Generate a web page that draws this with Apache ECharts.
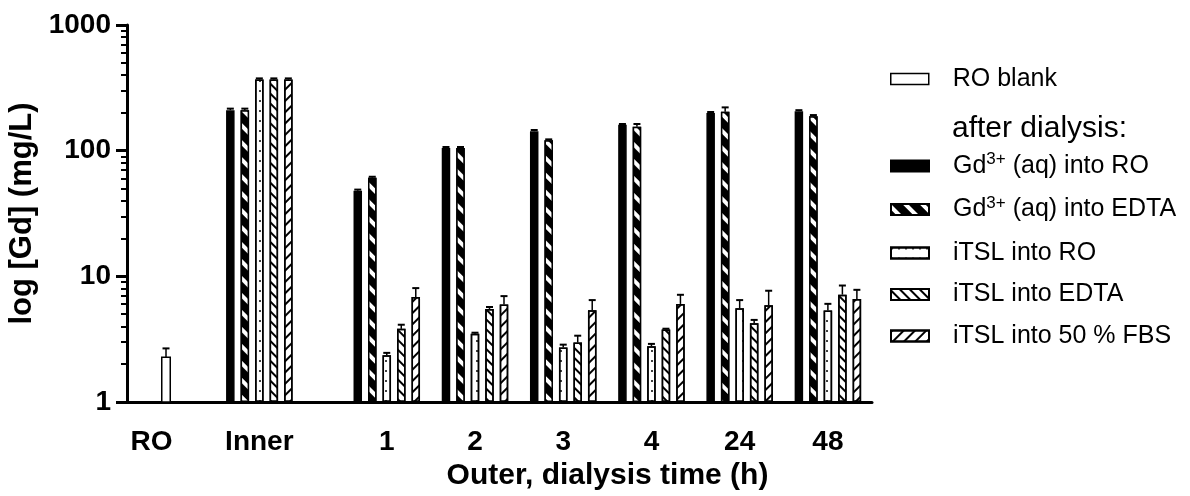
<!DOCTYPE html>
<html>
<head>
<meta charset="utf-8">
<script src="https://cdn.jsdelivr.net/npm/echarts@6/dist/echarts.min.js"></script>
<style>
  html, body { margin: 0; padding: 0; background: #fff; }
  #main { width: 1190px; height: 496px; }
</style>
</head>
<body>
<div id="main"></div>
<script>
// groups on the x axis
var groups = ['RO', 'Inner', '1', '2', '3', '4', '24', '48'];

// mean values (mg/L), one per group
var gdRO      = [null, 210, 48,   105, 143,  161,  199,  206];
var gdEDTA    = [null, 210, 61,   105, 121,  155,  204,  188];
var itslRO    = [null, 368, 2.36, 3.5, 2.71, 2.78, 5.57, 5.34];
var itslEDTA  = [null, 368, 3.82, 5.5, 2.97, 3.77, 4.23, 7.15];
var itslFBS   = [null, 368, 6.86, 5.96, 5.37, 6.03, 5.88, 6.61];
var roBlank   = [2.27];

// error (upper bar only)
var gdRO_sd     = [null, 6, 1,   2,    3,    2,    4,   4];
var gdEDTA_sd   = [null, 6, 1,   2,    2,    8,   17,   4];
var itslRO_sd   = [null, 8, 0.1, 0.06, 0.15, 0.12, 0.9, 0.7];
var itslEDTA_sd = [null, 8, 0.3, 0.2,  0.4,  0.06, 0.27, 1.3];
var itslFBS_sd  = [null, 8, 1.2, 1.0,  1.1,  1.1,  1.8, 1.2];
var roBlank_sd  = [0.4];

var seriesNames = ['Gd3+ (aq) into RO', 'Gd3+ (aq) into EDTA', 'iTSL into RO', 'iTSL into EDTA', 'iTSL into 50 % FBS'];

// layout: the x axis is split in thin slots so the groups can sit
// with the uneven gaps of the original figure
var SLOTS = 76;
var groupSlot = [2, 13, 26, 35, 44, 53, 62, 71];
var BAR_W = 8.5;
var PITCH = 14.5;
var FONT = 'Liberation Sans';

var slotLabels = [];
for (var i = 0; i < SLOTS; i++) slotLabels.push('');
groupSlot.forEach(function (s, i) { slotLabels[s] = groups[i]; });

function toSlots(values) {
  var out = [];
  for (var i = 0; i < SLOTS; i++) out.push(null);
  values.forEach(function (v, i) { out[groupSlot[i]] = v; });
  return out;
}

// minor ticks of the log axis: 2..9 in every decade
var minorTicks = [];
[1, 10, 100].forEach(function (d) {
  for (var m = 2; m <= 9; m++) minorTicks.push(m * d);
});

var decals = [
  null,
  { symbol: 'rect', symbolSize: 1, symbolKeepAspect: false, color: '#fff',
    dashArrayX: [1, 0], dashArrayY: [4, 8], rotation: Math.PI / 4 },
  { symbol: 'circle', symbolSize: 1, color: '#000',
    dashArrayX: [1.6, 5], dashArrayY: [1.6, 8] },
  { symbol: 'rect', symbolSize: 1, symbolKeepAspect: false, color: '#000',
    dashArrayX: [1, 0], dashArrayY: [1.3, 4.2], rotation: Math.PI / 4 },
  { symbol: 'rect', symbolSize: 1, symbolKeepAspect: false, color: '#000',
    dashArrayX: [1, 0], dashArrayY: [1.3, 5.2], rotation: -Math.PI / 4 }
];
var fills = ['#000', '#000', '#fff', '#fff', '#fff'];
var means = [gdRO, gdEDTA, itslRO, itslEDTA, itslFBS];
var sds = [gdRO_sd, gdEDTA_sd, itslRO_sd, itslEDTA_sd, itslFBS_sd];

var series = means.map(function (vals, k) {
  var style = { color: fills[k], borderColor: '#000', borderWidth: 1.5 };
  if (decals[k]) style.decal = decals[k];
  return {
    name: seriesNames[k],
    type: 'bar',
    data: toSlots(vals),
    barWidth: BAR_W,
    barGap: ((PITCH - BAR_W) / BAR_W * 100).toFixed(1) + '%',
    itemStyle: style,
    emphasis: { disabled: true },
    animation: false
  };
});

// error bars for the grouped bars
var errData = [];
means.forEach(function (vals, k) {
  vals.forEach(function (v, i) {
    if (v != null) errData.push([groupSlot[i], v, sds[k][i], k]);
  });
});

function errorBar(x, y0, y1) {
  return [
    { type: 'line', shape: { x1: x, y1: y0, x2: x, y2: y1 }, style: { stroke: '#000', lineWidth: 1.5 } },
    { type: 'line', shape: { x1: x - 3.5, y1: y1, x2: x + 3.5, y2: y1 }, style: { stroke: '#000', lineWidth: 2 } }
  ];
}

series.push({
  name: 'err',
  type: 'custom',
  silent: true,
  animation: false,
  encode: { x: 0, y: 1 },
  data: errData,
  renderItem: function (params, api) {
    var slot = api.value(0), m = api.value(1), sd = api.value(2), k = api.value(3);
    var p0 = api.coord([slot, m]);
    var p1 = api.coord([slot, m + sd]);
    var x = p0[0] + (k - 2) * PITCH;
    return { type: 'group', children: errorBar(x, p0[1], p1[1]) };
  }
});

// RO blank: one open bar, drawn one bar pitch right of its tick as in the figure
series.push({
  name: 'RO blank',
  type: 'custom',
  animation: false,
  itemStyle: { color: '#fff', borderColor: '#000', borderWidth: 1.5 },
  encode: { x: 0, y: 1 },
  data: roBlank.map(function (v, i) { return [groupSlot[i], v, roBlank_sd[i]]; }),
  renderItem: function (params, api) {
    var slot = api.value(0), m = api.value(1), sd = api.value(2);
    var base = api.coord([slot, 1]);
    var top = api.coord([slot, m]);
    var tip = api.coord([slot, m + sd]);
    var x = base[0] + PITCH;
    return {
      type: 'group',
      children: [
        { type: 'rect', shape: { x: x - BAR_W / 2, y: top[1], width: BAR_W, height: base[1] - top[1] },
          style: { fill: '#fff', stroke: '#000', lineWidth: 1.5 } }
      ].concat(errorBar(x, top[1], tip[1]))
    };
  }
});

var legendText = {
  color: '#000',
  fontFamily: FONT,
  fontSize: 25,
  lineHeight: 30,
  padding: [0, 0, 0, 19],
  rich: {
    n: { fontFamily: FONT, fontSize: 25, lineHeight: 30, color: '#000' },
    sup: { fontFamily: FONT, fontSize: 17, lineHeight: 30, color: '#000', verticalAlign: 'top', padding: [0, 0, 15, 0] }
  }
};

function legendFormatter(name) {
  if (name.indexOf('Gd3+') === 0) {
    return '{n|Gd}{sup|3+}{n|' + name.slice(4) + '}';
  }
  return '{n|' + name + '}';
}

var chart = echarts.init(document.getElementById('main'), null, { renderer: 'canvas' });
chart.setOption({
  backgroundColor: '#fff',
  animation: false,
  title: {
    text: 'after dialysis:',
    left: 947,
    top: 109,
    textStyle: { fontFamily: FONT, fontSize: 30, fontWeight: 'normal', color: '#000' }
  },
  legend: [
    {
      data: [{ name: 'RO blank', icon: 'rect', itemStyle: { color: '#fff', borderColor: '#000', borderWidth: 1.5 } }],
      left: 885,
      top: 59,
      orient: 'vertical',
      itemWidth: 38,
      itemHeight: 11,
      selectedMode: false,
      textStyle: legendText,
      formatter: legendFormatter
    },
    {
      data: seriesNames.map(function (n) { return { name: n, icon: 'rect' }; }),
      left: 885,
      top: 146,
      orient: 'vertical',
      itemWidth: 38,
      itemHeight: 11,
      itemGap: 11.5,
      selectedMode: false,
      textStyle: legendText,
      formatter: legendFormatter
    }
  ],
  grid: { left: 127, right: 318, top: 25, bottom: 94, containLabel: false, outerBoundsMode: 'none' },
  xAxis: {
    type: 'category',
    data: slotLabels,
    boundaryGap: true,
    name: 'Outer, dialysis time (h)',
    nameLocation: 'middle',
    nameGap: 58,
    nameTextStyle: { fontFamily: FONT, fontSize: 30, fontWeight: 'bold', color: '#000', padding: [0, 0, 0, 216] },
    axisLine: { lineStyle: { color: '#000', width: 3 } },
    axisTick: {
      alignWithLabel: true,
      length: 13,
      lineStyle: { color: '#000', width: 3 },
      interval: function (index, value) { return value !== ''; }
    },
    axisLabel: {
      interval: 0,
      margin: 26,
      fontFamily: FONT,
      fontSize: 28,
      fontWeight: 'bold',
      color: '#000'
    },
    splitLine: { show: false }
  },
  yAxis: [
    {
      type: 'log',
      logBase: 10,
      min: 1,
      max: 1000,
      name: 'log [Gd] (mg/L)',
      nameLocation: 'middle',
      nameRotate: 90,
      nameGap: 86,
      nameTextStyle: { fontFamily: FONT, fontSize: 31, fontWeight: 'bold', color: '#000' },
      axisLine: { show: true, lineStyle: { color: '#000', width: 3 } },
      axisTick: { show: true, length: 11, lineStyle: { color: '#000', width: 3 } },
      axisLabel: {
        margin: 16, fontFamily: FONT, fontSize: 28, fontWeight: 'bold', color: '#000',
        formatter: function (v) { return String(Math.round(v)); }
      },
      splitLine: { show: false }
    },
    {
      type: 'log',
      logBase: 10,
      min: 1,
      max: 1000,
      position: 'left',
      axisLine: { show: false },
      axisLabel: { show: false },
      axisTick: { show: true, length: 6, customValues: minorTicks, lineStyle: { color: '#000', width: 2 } },
      splitLine: { show: false }
    }
  ],
  series: series
});
</script>
</body>
</html>
